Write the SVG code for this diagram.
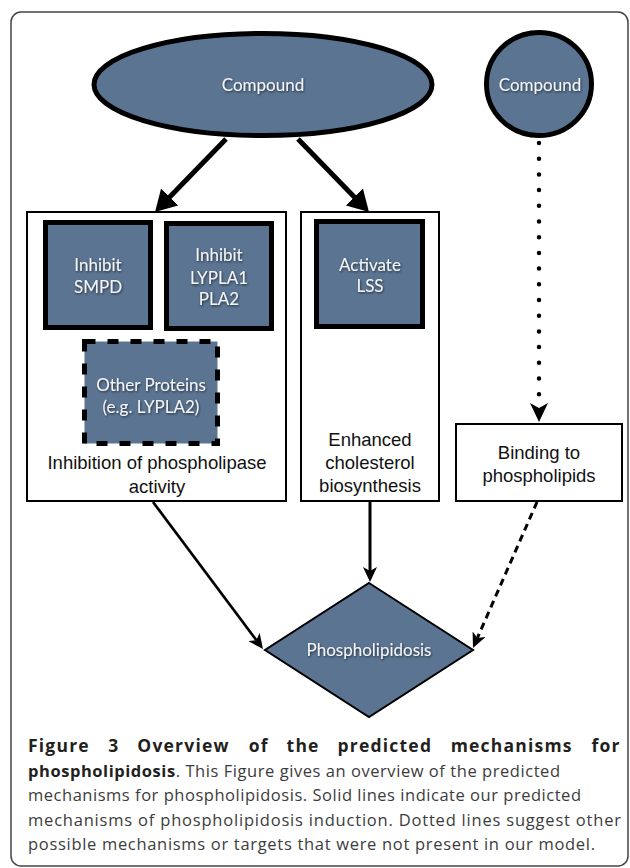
<svg xmlns="http://www.w3.org/2000/svg" width="630" height="868" viewBox="0 0 630 868">
<defs>
<style>
.blue{fill:#5a7492}
.thick{stroke:#000;stroke-width:5}
.ntext{font-family:Lato,"Open Sans",sans-serif;font-size:17px;fill:#f4f4f4;text-anchor:middle;filter:url(#shadow)}
.box{fill:#fff;stroke:#000;stroke-width:2}
.label{font-family:"Liberation Sans",Arial,sans-serif;font-size:18.5px;fill:#111;text-anchor:middle}
.cap{font-family:"Open Sans","Noto Sans",sans-serif;font-size:16.5px;fill:#3c3c3c}
.capb{font-family:"Open Sans","Noto Sans",sans-serif;font-size:17.5px;font-weight:bold;fill:#231f20;letter-spacing:1.2px}
.b{font-weight:bold;fill:#231f20}
.conn{fill:none;stroke:#000}
</style>
<filter id="shadow" x="-20%" y="-30%" width="140%" height="170%">
<feDropShadow dx="0.8" dy="1.2" stdDeviation="1" flood-color="#000" flood-opacity="0.6"/>
</filter>
<marker id="bigArrow" markerUnits="userSpaceOnUse" markerWidth="22" markerHeight="24" viewBox="0 0 22 24" refX="9" refY="12" orient="auto">
<path d="M0,0 L21,12 L0,24 z" fill="#000"/>
</marker>
<marker id="arrow" markerUnits="userSpaceOnUse" markerWidth="15" markerHeight="14" viewBox="0 0 15 14" refX="4" refY="7" orient="auto">
<path d="M0,0 L15,7 L0,14 L4,7 z" fill="#000"/>
</marker>
<marker id="arrowDot" markerUnits="userSpaceOnUse" markerWidth="19" markerHeight="18" viewBox="0 0 19 18" refX="5" refY="9" orient="auto">
<path d="M0,0 L19,9 L0,18 L5,9 z" fill="#000"/>
</marker>
</defs>

<rect x="11" y="12" width="617" height="854" rx="10" fill="#fff" stroke="#444" stroke-width="1.5"/>

<g id="connectors">
<line class="conn" x1="226" y1="139" x2="163.4" y2="203.4" stroke-width="5" marker-end="url(#bigArrow)"/>
<line class="conn" x1="298" y1="139" x2="360.6" y2="203.4" stroke-width="5" marker-end="url(#bigArrow)"/>
<line class="conn" x1="539" y1="143" x2="539" y2="408" stroke-width="4.5" stroke-linecap="round" stroke-dasharray="0 15.7" marker-end="url(#arrowDot)"/>
<line class="conn" x1="153" y1="502" x2="256.4" y2="640.2" stroke-width="2.7" marker-end="url(#arrow)"/>
<line class="conn" x1="370" y1="502" x2="370" y2="571" stroke-width="3" marker-end="url(#arrow)"/>
<line class="conn" x1="537" y1="502" x2="477.4" y2="637.9" stroke-width="3" stroke-dasharray="7 5" marker-end="url(#arrow)"/>
</g>

<g id="compound-main">
<ellipse class="blue thick" cx="263" cy="84.5" rx="169" ry="51"/>
<text class="ntext" x="263" y="91">Compound</text>
</g>

<g id="compound-side">
<ellipse class="blue thick" cx="539" cy="84" rx="52.5" ry="51.5"/>
<text class="ntext" x="540" y="91">Compound</text>
</g>

<g id="phospholipase-box">
<rect class="box" x="27" y="212" width="259" height="289"/>
<text class="label" x="157" y="469">Inhibition of phospholipase</text>
<text class="label" x="157" y="493">activity</text>
</g>

<g id="inhibit-smpd">
<rect class="blue thick" x="45.5" y="222.5" width="105" height="105"/>
<text class="ntext" x="98" y="271">Inhibit</text>
<text class="ntext" x="98" y="293">SMPD</text>
</g>

<g id="inhibit-lypla1">
<rect class="blue thick" x="166.5" y="223.5" width="105" height="105"/>
<text class="ntext" x="219" y="261">Inhibit</text>
<text class="ntext" x="219" y="284">LYPLA1</text>
<text class="ntext" x="219" y="305">PLA2</text>
</g>

<g id="other-proteins">
<rect class="blue" x="84.5" y="341.5" width="133" height="102" stroke="#000" stroke-width="5" stroke-dasharray="11 12"/>
<text class="ntext" x="151" y="391">Other Proteins</text>
<text class="ntext" x="151" y="413">(e.g. LYPLA2)</text>
</g>

<g id="cholesterol-box">
<rect class="box" x="301" y="212" width="138" height="289"/>
<text class="label" x="370" y="446">Enhanced</text>
<text class="label" x="370" y="469">cholesterol</text>
<text class="label" x="370" y="492">biosynthesis</text>
</g>

<g id="activate-lss">
<rect class="blue thick" x="316.5" y="221.5" width="106" height="105"/>
<text class="ntext" x="370" y="271">Activate</text>
<text class="ntext" x="370" y="292">LSS</text>
</g>

<g id="binding-box">
<rect class="box" x="456" y="424" width="166" height="77"/>
<text class="label" x="539" y="459">Binding to</text>
<text class="label" x="539" y="482">phospholipids</text>
</g>

<g id="phospholipidosis">
<polygon class="blue" points="369,583 473,650 369,717 265,650" stroke="#000" stroke-width="2"/>
<text class="ntext" x="369" y="656">Phospholipidosis</text>
</g>

<g id="caption">
<text class="capb" x="28" y="752">Figure</text>
<text class="capb" x="108.3" y="752">3</text>
<text class="capb" x="137.3" y="752">Overview</text>
<text class="capb" x="248.7" y="752">of</text>
<text class="capb" x="286.6" y="752">the</text>
<text class="capb" x="337.6" y="752">predicted</text>
<text class="capb" x="450.7" y="752">mechanisms</text>
<text class="capb" x="591.5" y="752">for</text>
<text class="cap" x="28" y="776.5" textLength="532" lengthAdjust="spacing"><tspan class="b">phospholipidosis</tspan>. This Figure gives an overview of the predicted</text>
<text class="cap" x="28" y="801" textLength="553" lengthAdjust="spacing">mechanisms for phospholipidosis. Solid lines indicate our predicted</text>
<text class="cap" x="28" y="825.5" textLength="593" lengthAdjust="spacing">mechanisms of phospholipidosis induction. Dotted lines suggest other</text>
<text class="cap" x="28" y="850" textLength="567" lengthAdjust="spacing">possible mechanisms or targets that were not present in our model.</text>
</g>
</svg>
